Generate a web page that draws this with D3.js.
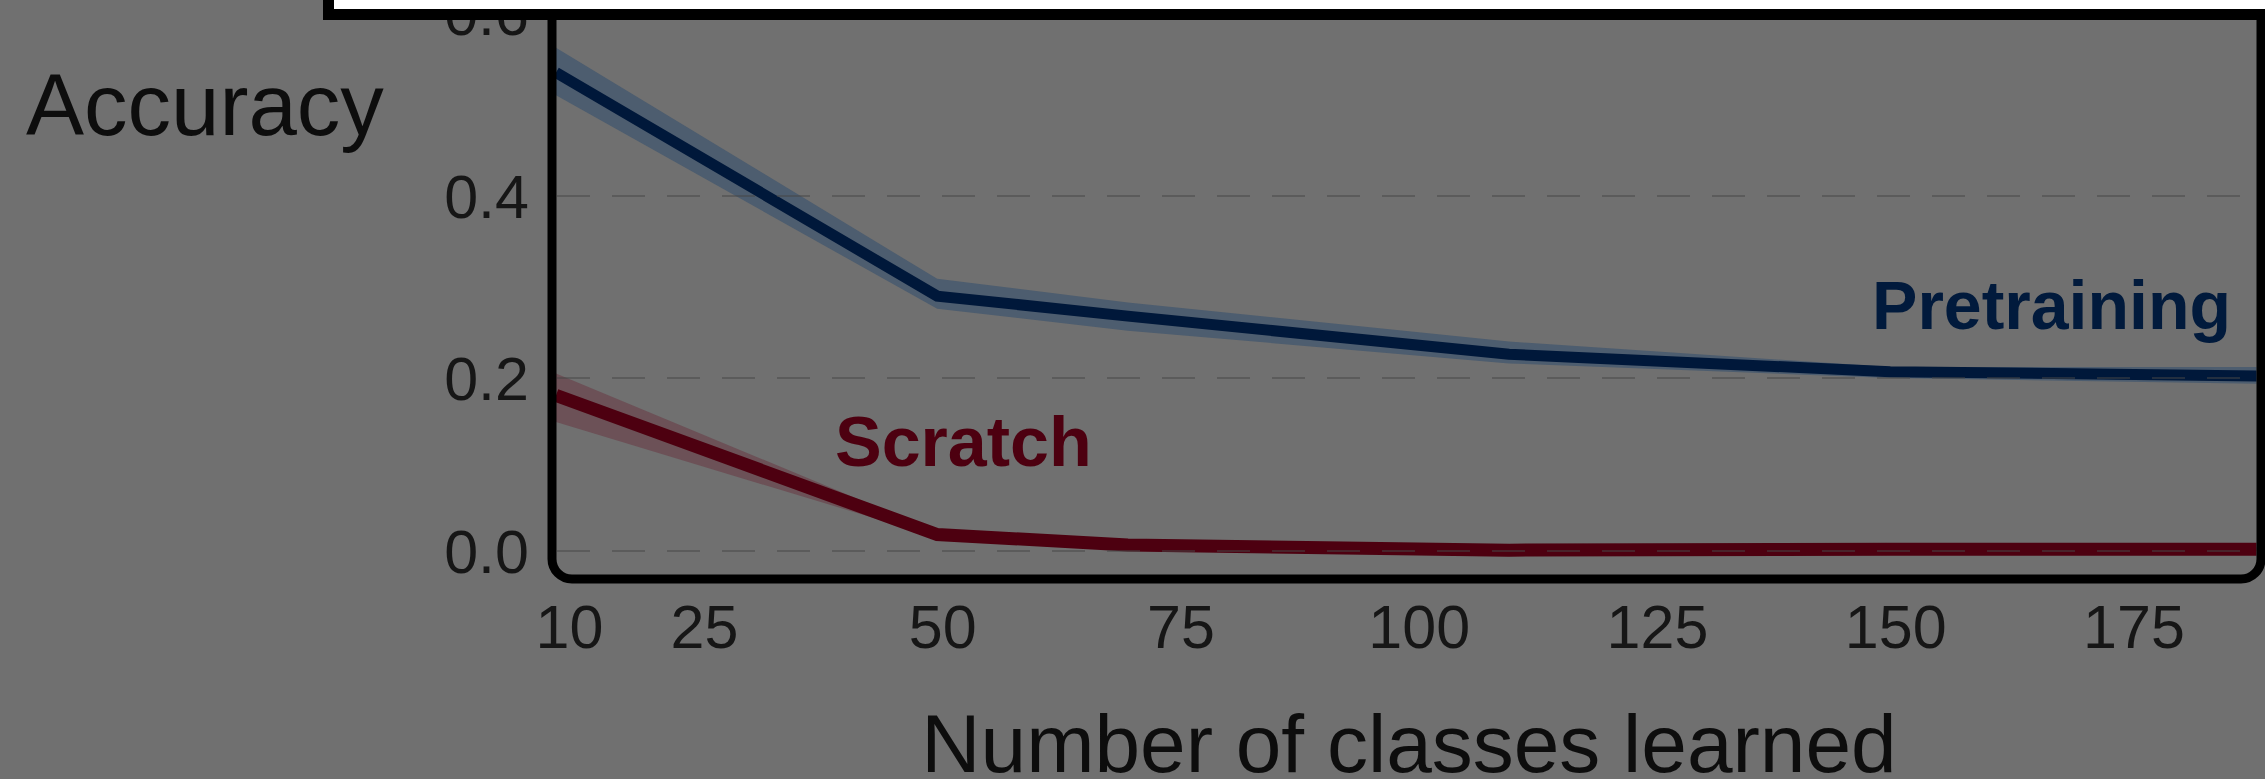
<!DOCTYPE html>
<html>
<head>
<meta charset="utf-8">
<script src="https://cdn.jsdelivr.net/npm/d3@7"></script>
<style>
  html, body { margin: 0; padding: 0; background: #707070; overflow: hidden; }
  svg { display: block; }
</style>
</head>
<body>
<svg id="chart" width="2265" height="779"></svg>
<script>
// Accuracy vs. number of classes learned, mean with spread band
const classes      = [10, 50, 70, 110, 150, 190];
const pretrainMean = [0.535, 0.290, 0.268, 0.226, 0.207, 0.202];
const pretrainLow  = [0.510, 0.276, 0.252, 0.216, 0.200, 0.193];
const pretrainHigh = [0.562, 0.309, 0.283, 0.240, 0.212, 0.212];
const scratchMean  = [0.180, 0.019, 0.007, 0.001, 0.002, 0.002];
const scratchLow   = [0.149, 0.016, 0.005, 0.000, 0.000, 0.000];
const scratchHigh  = [0.205, 0.022, 0.009, 0.003, 0.004, 0.004];
const xTicks = [10, 25, 50, 75, 100, 125, 150, 175];
const yTicks = [0.0, 0.2, 0.4, 0.6];

const svg = d3.select("#chart");
const FONT = "'Liberation Sans', Arial, Helvetica, sans-serif";

const frame = { left: 552, right: 2261, bottom: 579 };

const x = d3.scaleLinear().domain([10, 190]).range([556, 556 + 180 * 9.53]);
const y = d3.scaleLinear().domain([0, 0.2, 0.4, 0.6]).range([551, 378, 196, 13]);

// clip marks to the inside of the frame
svg.append("defs").append("clipPath").attr("id", "plot-clip")
  .append("rect")
  .attr("x", 540).attr("y", 0)
  .attr("width", frame.right - 4.5 - 540)
  .attr("height", frame.bottom - 4.5);

const plot = svg.append("g").attr("clip-path", "url(#plot-clip)");
const idx = d3.range(classes.length);

const series = [
  { mean: pretrainMean, low: pretrainLow, high: pretrainHigh,
    line: "#00183a", band: "#2a4a6e", bandOpacity: 0.5, width: 11 },
  { mean: scratchMean, low: scratchLow, high: scratchHigh,
    line: "#4d0010", band: "#640a1e", bandOpacity: 0.3, width: 13 }
];

series.forEach(s => {
  const area = d3.area()
    .x(i => x(classes[i]))
    .y0(i => y(s.low[i]))
    .y1(i => y(s.high[i]));
  plot.append("path")
    .attr("d", area(idx))
    .attr("fill", s.band)
    .attr("fill-opacity", s.bandOpacity);
});

series.forEach(s => {
  const line = d3.line()
    .x(i => x(classes[i]))
    .y(i => y(s.mean[i]));
  plot.append("path")
    .attr("d", line(idx))
    .attr("fill", "none")
    .attr("stroke", s.line)
    .attr("stroke-width", s.width)
    .attr("stroke-linejoin", "miter");
});

// dashed horizontal gridlines, drawn over the curves
plot.append("g").selectAll("line")
  .data(yTicks.filter(v => v < 0.6))
  .join("line")
  .attr("x1", frame.left + 5)
  .attr("x2", frame.right - 4)
  .attr("y1", d => y(d))
  .attr("y2", d => y(d))
  .attr("stroke", "#464646")
  .attr("stroke-opacity", 0.5)
  .attr("stroke-width", 2)
  .attr("stroke-dasharray", "33 22");

// rounded plot frame
svg.append("rect")
  .attr("x", frame.left)
  .attr("y", -40)
  .attr("width", frame.right - frame.left)
  .attr("height", frame.bottom + 40)
  .attr("rx", 20).attr("ry", 20)
  .attr("fill", "none")
  .attr("stroke", "#000")
  .attr("stroke-width", 9);

// y axis labels
const yAxis = svg.append("g")
  .attr("transform", "translate(529,0)")
  .call(d3.axisLeft(y).tickValues(yTicks).tickSize(0).tickPadding(0).tickFormat(d3.format(".1f")));
yAxis.select(".domain").remove();
yAxis.selectAll("text")
  .attr("font-family", FONT)
  .attr("font-size", 61)
  .attr("fill", "#161616")
  .attr("dy", "0.35em");

// x axis labels
const xAxis = svg.append("g")
  .attr("transform", "translate(0,605)")
  .call(d3.axisBottom(x).tickValues(xTicks).tickSize(0).tickPadding(0));
xAxis.select(".domain").remove();
xAxis.selectAll("text")
  .attr("font-family", FONT)
  .attr("font-size", 61)
  .attr("fill", "#161616")
  .attr("dy", "0.71em")
  .attr("x", d => d === 10 ? 13 : 5);

// axis titles
svg.append("text")
  .attr("x", 26).attr("y", 135)
  .attr("font-family", FONT)
  .attr("font-size", 87)
  .attr("fill", "#0d0d0d")
  .text("Accuracy");

svg.append("text")
  .attr("x", 1409).attr("y", 772)
  .attr("text-anchor", "middle")
  .attr("font-family", FONT)
  .attr("font-size", 82)
  .attr("fill", "#0d0d0d")
  .text("Number of classes learned");

// series labels
svg.append("text")
  .attr("x", 2231).attr("y", 329)
  .attr("text-anchor", "end")
  .attr("font-family", FONT)
  .attr("font-weight", "bold")
  .attr("font-size", 68)
  .attr("fill", "#011a3c")
  .text("Pretraining");

svg.append("text")
  .attr("x", 835).attr("y", 466)
  .attr("font-family", FONT)
  .attr("font-weight", "bold")
  .attr("font-size", 70)
  .attr("fill", "#4d0010")
  .text("Scratch");

// white panel with heavy border across the top
svg.append("rect")
  .attr("x", 328.5)
  .attr("y", -60)
  .attr("width", 3000)
  .attr("height", 74.5)
  .attr("fill", "#ffffff")
  .attr("stroke", "#000")
  .attr("stroke-width", 11);
</script>
</body>
</html>
